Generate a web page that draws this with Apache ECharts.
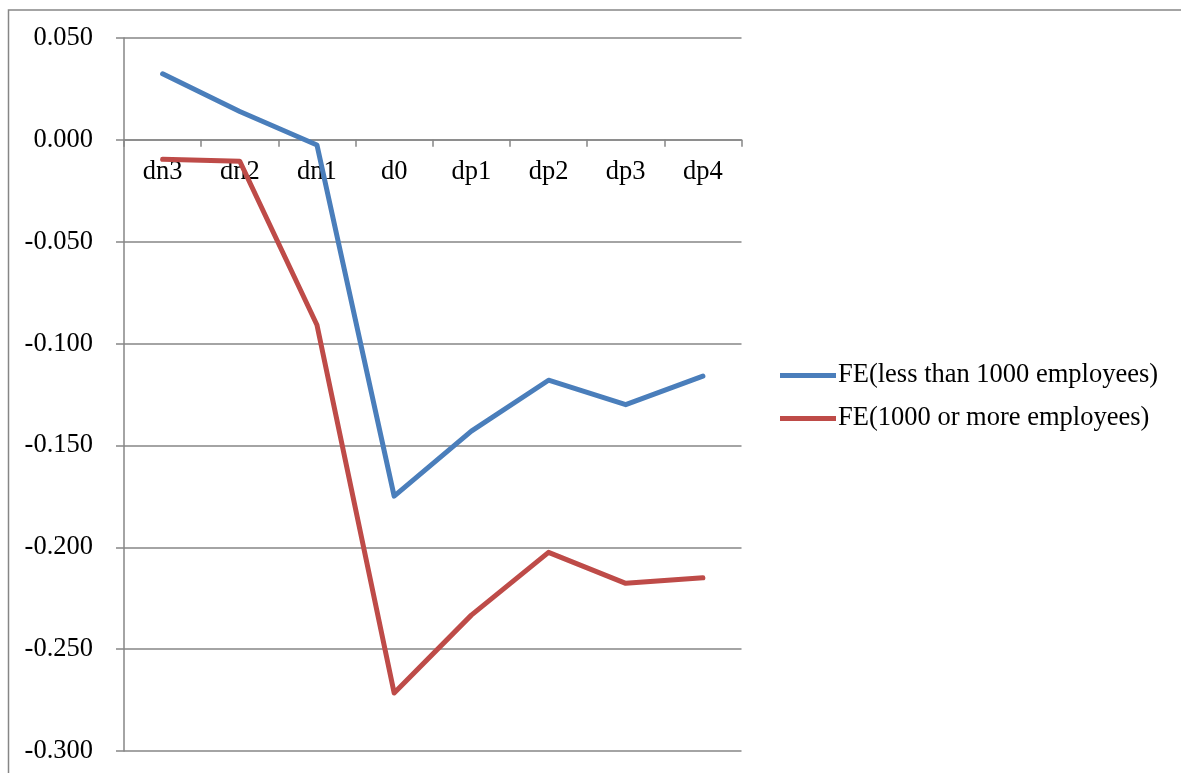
<!DOCTYPE html>
<html>
<head>
<meta charset="utf-8">
<script src="https://cdn.jsdelivr.net/npm/echarts@6/dist/echarts.min.js"></script>
<style>
  html, body { margin: 0; padding: 0; background: #ffffff; }
  #chart { width: 1181px; height: 773px; }
</style>
</head>
<body>
<div id="chart"></div>
<script>
// Event-time categories
const categories = ['dn3', 'dn2', 'dn1', 'd0', 'dp1', 'dp2', 'dp3', 'dp4'];

// Fixed-effect estimates by firm size
const smallFirms = [0.0324, 0.0139, -0.0025, -0.1749, -0.1430, -0.1180, -0.1300, -0.1160];
const largeFirms = [-0.0095, -0.0105, -0.0909, -0.2715, -0.2333, -0.2025, -0.2177, -0.2150];

const seriesNames = ['FE(less than 1000 employees)', 'FE(1000 or more employees)'];

// Value axis range and step
const yMin = -0.30;
const yMax = 0.05;
const yStep = 0.05;

const serif = '"Liberation Serif", "Times New Roman", "DejaVu Serif", serif';
const gray = '#868686';

const W = 1181, H = 773;
const gridTop = 38, gridBottom = 22;
const plotHeight = H - gridTop - gridBottom;
// Category axis sits on the zero line of the value axis
const zeroOffset = -plotHeight * (0 - yMin) / (yMax - yMin);

const chart = echarts.init(document.getElementById('chart'));
chart.setOption({
  animation: false,
  backgroundColor: '#ffffff',
  textStyle: { fontFamily: serif },
  graphic: [{
    type: 'rect',
    left: 6,
    top: 7.5,
    shape: { width: 1220, height: 820 },
    style: { fill: 'none', stroke: gray, lineWidth: 1.5 },
    silent: true
  }],
  grid: { left: 124, right: 439.5, top: gridTop, bottom: gridBottom, containLabel: false, outerBoundsMode: 'none' },
  legend: {
    orient: 'vertical',
    left: 780,
    top: 362,
    padding: 0,
    itemWidth: 56,
    itemHeight: 5,
    itemGap: 16,
    icon: 'rect',
    textStyle: { fontFamily: serif, fontSize: 26.5, color: '#000000', lineHeight: 26, padding: [0, 0, 0, -3] },
    data: seriesNames
  },
  xAxis: {
    type: 'category',
    data: categories,
    boundaryGap: true,
    offset: zeroOffset,
    axisLine: { onZero: false, lineStyle: { color: gray, width: 1.5 } },
    axisTick: { show: true, length: 7, lineStyle: { color: gray, width: 1.5 } },
    axisLabel: { fontFamily: serif, fontSize: 26.5, color: '#000000', margin: 19 },
    splitLine: { show: false }
  },
  yAxis: {
    type: 'value',
    min: yMin,
    max: yMax,
    interval: yStep,
    axisLine: { show: true, lineStyle: { color: gray, width: 1.5 } },
    axisTick: { show: true, length: 8, lineStyle: { color: gray, width: 1.5 } },
    axisLabel: {
      fontFamily: serif, fontSize: 26.5, color: '#000000', margin: 31,
      formatter: v => (Math.abs(v) < 1e-9 ? 0 : v).toFixed(3)
    },
    splitLine: { show: true, lineStyle: { color: gray, width: 1.5 } }
  },
  series: [
    {
      name: seriesNames[0],
      type: 'line',
      data: smallFirms,
      symbol: 'none',
      color: '#4a7ebb',
      lineStyle: { width: 5, color: '#4a7ebb', cap: 'round', join: 'round' }
    },
    {
      name: seriesNames[1],
      type: 'line',
      data: largeFirms,
      symbol: 'none',
      color: '#be4b48',
      lineStyle: { width: 5, color: '#be4b48', cap: 'round', join: 'round' }
    }
  ]
});
</script>
</body>
</html>
